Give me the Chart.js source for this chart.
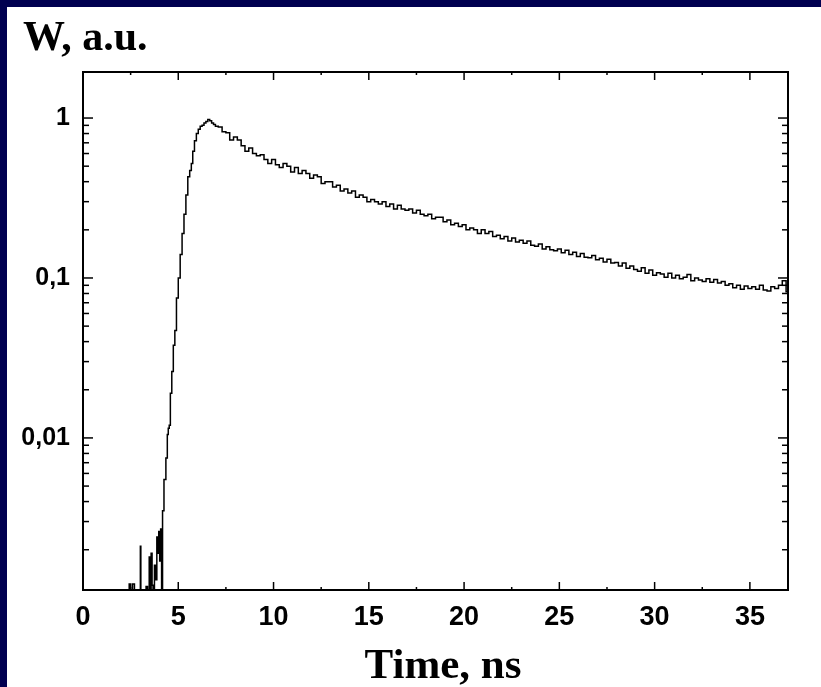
<!DOCTYPE html>
<html>
<head>
<meta charset="utf-8">
<script src="https://cdn.jsdelivr.net/npm/chart.js@4"></script>
<style>
    body { margin: 0; background: #000050; width: 821px; height: 687px; overflow: hidden; }
    #panel { position: absolute; left: 7px; top: 7px; width: 814px; height: 680px; background: #fff; }
</style>
</head>
<body>
<div id="panel"><canvas id="decayChart" width="814" height="680"></canvas></div>
<script>
// --- Data ---
// noise near the baseline and the rising edge (time in ns, W in a.u.)
const riseTimes = [2.40, 2.45, 2.55, 2.65, 2.75, 3.00, 3.02, 3.05, 3.30, 3.32,
    3.45, 3.50, 3.55, 3.60, 3.65, 3.70, 3.80, 3.85, 3.90, 3.95,
    4.00, 4.05, 4.10, 4.15, 4.20, 4.30, 4.40, 4.45, 4.50, 4.55,
    4.62, 4.70, 4.78, 4.86, 4.95, 5.05, 5.15, 5.25, 5.35, 5.45,
    5.55, 5.65, 5.72, 5.80, 5.90, 6.00, 6.10, 6.20, 6.30, 6.40,
    6.50, 6.60, 6.70, 6.80, 6.90, 7.00];
const riseValues = [0.0009, 0.00122, 0.0009, 0.00122, 0.0009, 0.0009, 0.0021, 0.0009, 0.0009, 0.00118,
    0.0009, 0.0018, 0.0011, 0.0019, 0.0012, 0.0009, 0.0016, 0.0013, 0.0024, 0.0019,
    0.0026, 0.0017, 0.0027, 0.0009, 0.0035, 0.0055, 0.0075, 0.0105, 0.0115, 0.012,
    0.019, 0.026, 0.038, 0.047, 0.075, 0.10, 0.14, 0.19, 0.25, 0.33,
    0.43, 0.47, 0.52, 0.62, 0.72, 0.80, 0.85, 0.89, 0.90, 0.93,
    0.95, 0.98, 0.96, 0.93, 0.91, 0.89];

// decay tail, sampled every 0.2 ns from 7.2 ns to 37.0 ns
const decayStart = 7.2;
const decayStep = 0.2;
const decayValues = [
    0.88, 0.82, 0.81, 0.73, 0.76, 0.73, 0.67, 0.62, 0.65, 0.60,
    0.58, 0.59, 0.55, 0.52, 0.55, 0.51, 0.49, 0.52, 0.50, 0.46,
    0.49, 0.45, 0.47, 0.45, 0.42, 0.44, 0.43, 0.39, 0.40, 0.40,
    0.37, 0.38, 0.35, 0.36, 0.34, 0.35, 0.32, 0.33, 0.32, 0.30,
    0.31, 0.30, 0.29, 0.30, 0.28, 0.29, 0.27, 0.285, 0.27, 0.265,
    0.27, 0.255, 0.265, 0.25, 0.245, 0.25, 0.235, 0.24, 0.24, 0.225,
    0.23, 0.215, 0.22, 0.21, 0.215, 0.20, 0.205, 0.20, 0.19, 0.20,
    0.19, 0.195, 0.182, 0.185, 0.176, 0.182, 0.17, 0.178, 0.168, 0.172,
    0.165, 0.17, 0.16, 0.158, 0.163, 0.152, 0.157, 0.15, 0.148, 0.152,
    0.144, 0.149, 0.14, 0.145, 0.136, 0.142, 0.135, 0.134, 0.138, 0.13,
    0.133, 0.126, 0.131, 0.124, 0.125, 0.119, 0.124, 0.115, 0.119, 0.113,
    0.11, 0.116, 0.107, 0.112, 0.104, 0.108, 0.106, 0.101, 0.107, 0.10,
    0.104, 0.099, 0.101, 0.105, 0.096, 0.10, 0.097, 0.095, 0.099, 0.094,
    0.098, 0.093, 0.095, 0.09, 0.092, 0.087, 0.09, 0.085, 0.089, 0.086,
    0.088, 0.085, 0.09, 0.084, 0.083, 0.088, 0.086, 0.09, 0.096, 0.082
];

// axes
const xMin = 0, xMax = 37;
const yMin = 0.00112, yMax = 1.94;
const xMajorTicks = [0, 5, 10, 15, 20, 25, 30, 35];
const xMinorTicks = [2.5, 7.5, 12.5, 17.5, 22.5, 27.5, 32.5];
const yMajorTicks = [0.01, 0.1, 1];
const yTickLabels = ['0,01', '0,1', '1'];
const yMinorTicks = [0.002, 0.003, 0.004, 0.005, 0.006, 0.007, 0.008, 0.009,
    0.02, 0.03, 0.04, 0.05, 0.06, 0.07, 0.08, 0.09,
    0.2, 0.3, 0.4, 0.5, 0.6, 0.7, 0.8, 0.9];
const yTitle = 'W, a.u.';
const xTitle = 'Time, ns';

const points = riseTimes.map((t, i) => ({ x: t, y: riseValues[i] }));
decayValues.forEach((v, i) => points.push({ x: decayStart + i * decayStep, y: v }));

// --- frame, inward ticks and titles ---
const frameTicks = {
    id: 'frameTicks',
    afterDraw(chart) {
        const { ctx, chartArea: a, scales: { x, y } } = chart;
        const line = (x1, y1, x2, y2) => {
            ctx.beginPath(); ctx.moveTo(x1, y1); ctx.lineTo(x2, y2); ctx.stroke();
        };
        ctx.save();
        ctx.strokeStyle = '#000';
        ctx.lineWidth = 2;
        ctx.strokeRect(a.left, a.top, a.right - a.left, a.bottom - a.top);

        ctx.lineWidth = 1.5;
        xMajorTicks.forEach(v => {
            const px = x.getPixelForValue(v);
            line(px, a.bottom, px, a.bottom - 8);
            line(px, a.top, px, a.top + 8);
        });
        xMinorTicks.forEach(v => {
            const px = x.getPixelForValue(v);
            line(px, a.bottom, px, a.bottom - 3);
            line(px, a.top, px, a.top + 3);
        });
        yMajorTicks.forEach(v => {
            const py = y.getPixelForValue(v);
            line(a.left, py, a.left + 10, py);
            line(a.right, py, a.right - 10, py);
        });
        yMinorTicks.forEach(v => {
            const py = y.getPixelForValue(v);
            line(a.left, py, a.left + 6, py);
            line(a.right, py, a.right - 6, py);
        });

        ctx.fillStyle = '#000';
        ctx.font = 'bold 42px "Liberation Serif", "Times New Roman", serif';
        ctx.textAlign = 'left';
        ctx.textBaseline = 'alphabetic';
        ctx.fillText(yTitle, 16, 43);
        ctx.font = 'bold 43px "Liberation Serif", "Times New Roman", serif';
        ctx.textAlign = 'center';
        ctx.fillText(xTitle, 436, 671);
        ctx.restore();
    }
};

const ctx = document.getElementById('decayChart').getContext('2d');
new Chart(ctx, {
    type: 'line',
    data: {
        datasets: [{
            data: points,
            borderColor: '#000',
            borderWidth: 1.5,
            pointRadius: 0,
            stepped: 'middle',
            fill: false
        }]
    },
    options: {
        responsive: false,
        animation: false,
        layout: { padding: { top: 65, right: 33, left: 0, bottom: 0 } },
        plugins: { legend: { display: false }, tooltip: { enabled: false } },
        scales: {
            x: {
                type: 'linear',
                min: xMin,
                max: xMax,
                grid: { display: false, drawTicks: false },
                border: { display: false },
                afterBuildTicks: scale => { scale.ticks = xMajorTicks.map(v => ({ value: v })); },
                afterFit: scale => { scale.height = 97; },
                ticks: {
                    color: '#000',
                    padding: 11,
                    maxRotation: 0,
                    font: { family: '"Liberation Sans", Arial, sans-serif', size: 27, weight: 'bold' }
                }
            },
            y: {
                type: 'logarithmic',
                min: yMin,
                max: yMax,
                grid: { display: false, drawTicks: false },
                border: { display: false },
                afterBuildTicks: scale => { scale.ticks = yMajorTicks.map(v => ({ value: v })); },
                afterFit: scale => { scale.width = 76; },
                ticks: {
                    color: '#000',
                    padding: 13,
                    font: { family: '"Liberation Sans", Arial, sans-serif', size: 25, weight: 'bold' },
                    callback: (value) => {
                        const i = yMajorTicks.indexOf(value);
                        return i >= 0 ? yTickLabels[i] : '';
                    }
                }
            }
        }
    },
    plugins: [frameTicks]
});
</script>
</body>
</html>
